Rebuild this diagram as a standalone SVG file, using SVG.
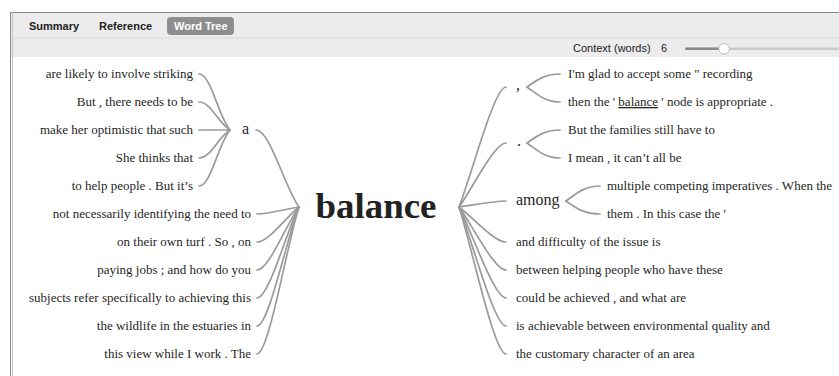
<svg xmlns="http://www.w3.org/2000/svg" width="839" height="376" viewBox="0 0 839 376">
<style>
.ui{font-family:"Liberation Sans",Arial,sans-serif;font-size:11px;fill:#222}
.tab{font-weight:bold}
.w{font-family:"Liberation Serif","Times New Roman",serif;font-size:13px;fill:#262626}
.node{font-family:"Liberation Serif","Times New Roman",serif;font-size:16px;fill:#262626}
.root{font-family:"Liberation Serif","Times New Roman",serif;font-size:35px;font-weight:bold;fill:#222}
.c path{fill:none;stroke:#9a9a9a;stroke-width:1.7;stroke-linecap:round}
</style>
<rect x="0" y="0" width="839" height="376" fill="#ffffff"/>
<g id="toolbar">
<rect x="10" y="12" width="829" height="45" fill="#ececec"/>
<line x1="10" y1="12.5" x2="839" y2="12.5" stroke="#8a8a8a" stroke-width="1.2"/>
<line x1="10.5" y1="12" x2="10.5" y2="376" stroke="#8a8a8a" stroke-width="1"/>
<line x1="12.5" y1="12" x2="12.5" y2="376" stroke="#c4c4c4" stroke-width="1"/>
<line x1="13" y1="38" x2="839" y2="38" stroke="#d8d8d8" stroke-width="1"/>
<text class="ui tab" x="29" y="30">Summary</text>
<text class="ui tab" x="99" y="30">Reference</text>
<rect x="167" y="17" width="67" height="18" rx="4" fill="#8e8e8e"/>
<text class="ui tab" x="174" y="30" style="fill:#ffffff">Word Tree</text>
<text class="ui" x="573" y="52">Context (words)</text>
<text class="ui" x="661" y="52">6</text>
<rect x="685" y="47.5" width="154" height="2.5" rx="1.2" fill="#c9c9c9"/>
<rect x="685" y="47.5" width="40" height="2.5" rx="1.2" fill="#8a8a8a"/>
<circle cx="724" cy="48.8" r="5.3" fill="#ffffff" stroke="#b0b0b0" stroke-width="0.8"/>
</g>
<g id="connectors" class="c">
<path d="M199 74 C211 74 218 116 230 130"/>
<path d="M199 102 C211 102 218 123 230 130"/>
<path d="M199 130 C211 130 218 130 230 130"/>
<path d="M199 158 C211 158 218 137 230 130"/>
<path d="M199 186 C211 186 218 144 230 130"/>
<path d="M256 130 C270 130 285 188 299 207"/>
<path d="M257 214 C269 214 287 208.8 299 207"/>
<path d="M257 242 C269 242 287 215.8 299 207"/>
<path d="M257 270 C269 270 287 222.8 299 207"/>
<path d="M257 298 C269 298 287 229.8 299 207"/>
<path d="M257 326 C269 326 287 236.8 299 207"/>
<path d="M257 354 C269 354 287 243.8 299 207"/>
<path d="M459 207 C471 177 494 87 506 87"/>
<path d="M459 207 C471 191 494 143 506 143"/>
<path d="M459 207 C471 205.5 494 201 506 201"/>
<path d="M459 207 C471 215.8 494 242 506 242"/>
<path d="M459 207 C471 222.8 494 270 506 270"/>
<path d="M459 207 C471 229.8 494 298 506 298"/>
<path d="M459 207 C471 236.8 494 326 506 326"/>
<path d="M459 207 C471 243.8 494 354 506 354"/>
<path d="M527 87 C537 80 545 74 560 74"/>
<path d="M527 87 C537 94 545 102 560 102"/>
<path d="M527 143 C537 136 545 130 560 130"/>
<path d="M527 143 C537 150 545 158 560 158"/>
<path d="M566 201 C576 194 584 186 600 186"/>
<path d="M566 201 C576 208 584 214 600 214"/>
</g>
<g id="root"><text class="root" x="376" y="218" text-anchor="middle" textLength="121" lengthAdjust="spacingAndGlyphs">balance</text></g>
<g id="node-a"><text class="node" x="242" y="134">a</text></g>
<g id="left-a-leaves" class="w" text-anchor="end">
<text x="193" y="78">are likely to involve striking</text>
<text x="193" y="106">But , there needs to be</text>
<text x="193" y="134">make her optimistic that such</text>
<text x="193" y="162">She thinks that</text>
<text x="193" y="190">to help people . But it’s</text>
</g>
<g id="left-leaves" class="w" text-anchor="end">
<text x="251" y="218">not necessarily identifying the need to</text>
<text x="251" y="246">on their own turf . So , on</text>
<text x="251" y="274">paying jobs ; and how do you</text>
<text x="251" y="302">subjects refer specifically to achieving this</text>
<text x="251" y="330">the wildlife in the estuaries in</text>
<text x="251" y="358">this view while I work . The</text>
</g>
<g id="node-comma"><text class="node" x="516" y="90">,</text></g>
<g id="node-period"><text class="node" x="517" y="146">.</text></g>
<g id="node-among"><text class="node" x="516" y="205">among</text></g>
<g id="right-comma-leaves" class="w">
<text x="568" y="78">I'm glad to accept some " recording</text>
<text x="568" y="106">then the ' <tspan text-decoration="underline">balance</tspan> ' node is appropriate .</text>
</g>
<g id="right-period-leaves" class="w">
<text x="568" y="134">But the families still have to</text>
<text x="568" y="162">I mean , it can’t all be</text>
</g>
<g id="right-among-leaves" class="w">
<text x="607" y="190">multiple competing imperatives . When the</text>
<text x="607" y="218">them . In this case the '</text>
</g>
<g id="right-leaves" class="w">
<text x="516" y="246">and difficulty of the issue is</text>
<text x="516" y="274">between helping people who have these</text>
<text x="516" y="302">could be achieved , and what are</text>
<text x="516" y="330">is achievable between environmental quality and</text>
<text x="516" y="358">the customary character of an area</text>
</g>
</svg>
